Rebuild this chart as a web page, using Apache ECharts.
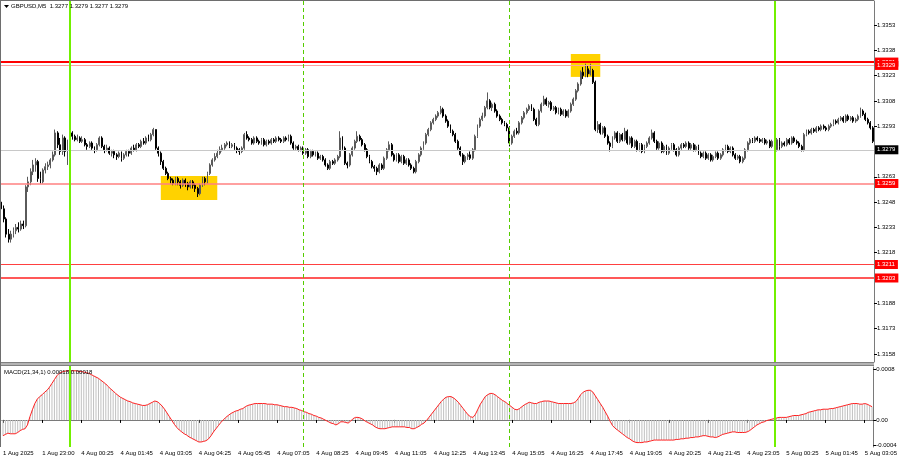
<!DOCTYPE html>
<html><head><meta charset="utf-8">
<script src="https://cdn.jsdelivr.net/npm/echarts@6/dist/echarts.min.js"></script>
<style>html,body{margin:0;padding:0;background:#fff}#c{width:900px;height:460px}</style>
</head><body><div id="c"></div>
<script>
const symbolTitle = 'GBPUSD,M5  1.3277 1.3279 1.3277 1.3279';
const macdTitle = 'MACD(21,34,1) 0.00018 0.00018';
const timeTickLabels = ['1 Aug 2025','1 Aug 23:00','4 Aug 00:25','4 Aug 01:45','4 Aug 03:05','4 Aug 04:25','4 Aug 05:45','4 Aug 07:05','4 Aug 08:25','4 Aug 09:45','4 Aug 11:05','4 Aug 12:25','4 Aug 13:45','4 Aug 15:05','4 Aug 16:25','4 Aug 17:45','4 Aug 19:05','4 Aug 20:25','4 Aug 21:45','4 Aug 23:05','5 Aug 00:25','5 Aug 01:45','5 Aug 03:05'];
const priceTicks = [1.3158,1.3173,1.3188,1.3218,1.3233,1.3248,1.3263,1.3293,1.3308,1.3323,1.3338,1.3353];
const macdTicks = [80, 0, -40];
const macdTickText = ['0.0008', '0.00', '-0.0004'];
const levels = [1.3331, 1.3329, 1.3259, 1.3211, 1.3203];
const currentPrice = 1.3279;
const dayLines = [28, 315];
const sessionLines = [123, 207];
const boxes = [[65, 1.32635, 88, 1.32492], [232, 1.33358, 244, 1.33222]];
// [open, close, low, high]
const candles = [
[1.3248,1.3244,1.3241,1.3250],[1.3244,1.3238,1.3236,1.3246],[1.3238,1.3229,1.3227,1.3239],[1.3229,1.3226,1.3224,1.3232],[1.3226,1.3229,1.3224,1.3231],
[1.3229,1.3231,1.3227,1.3233],[1.3231,1.3233,1.3229,1.3235],[1.3233,1.3232,1.3230,1.3236],[1.3232,1.3235,1.3231,1.3237],[1.3235,1.3234,1.3232,1.3237],
[1.3234,1.3257,1.3233,1.3258],[1.3257,1.3260,1.3254,1.3263],[1.3260,1.3266,1.3258,1.3268],[1.3266,1.3270,1.3264,1.3273],[1.3270,1.3272,1.3266,1.3274],
[1.3272,1.3262,1.3260,1.3273],[1.3262,1.3260,1.3259,1.3266],[1.3260,1.3267,1.3259,1.3268],[1.3267,1.3269,1.3265,1.3271],[1.3269,1.3270,1.3267,1.3272],
[1.3270,1.3273,1.3268,1.3274],[1.3273,1.3276,1.3272,1.3278],[1.3276,1.3289,1.3275,1.3291],[1.3289,1.3282,1.3280,1.3290],[1.3282,1.3278,1.3276,1.3286],
[1.3278,1.3286,1.3276,1.3288],[1.3286,1.3278,1.3275,1.3287],[1.3278,1.3283,1.3270,1.3285],[1.3283,1.3289,1.3282,1.3291],[1.3289,1.3287,1.3285,1.3290],
[1.3287,1.3285,1.3284,1.3288],[1.3285,1.3286,1.3284,1.3288],[1.3286,1.3284,1.3283,1.3287],[1.3284,1.3285,1.3283,1.3287],[1.3285,1.3282,1.3281,1.3286],
[1.3282,1.3281,1.3279,1.3283],[1.3281,1.3283,1.3280,1.3284],[1.3283,1.3280,1.3279,1.3284],[1.3280,1.3279,1.3277,1.3281],[1.3279,1.3282,1.3278,1.3283],
[1.3282,1.3286,1.3281,1.3287],[1.3286,1.3281,1.3280,1.3287],[1.3281,1.3279,1.3277,1.3282],[1.3279,1.3280,1.3278,1.3282],[1.3280,1.3277,1.3276,1.3281],
[1.3277,1.3278,1.3275,1.3279],[1.3278,1.3276,1.3274,1.3279],[1.3276,1.3275,1.3273,1.3277],[1.3275,1.3277,1.3274,1.3278],[1.3277,1.3274,1.3272,1.3278],
[1.3274,1.3276,1.3273,1.3277],[1.3276,1.3278,1.3275,1.3279],[1.3278,1.3277,1.3275,1.3279],[1.3277,1.3280,1.3276,1.3281],[1.3280,1.3279,1.3278,1.3282],
[1.3279,1.3282,1.3278,1.3283],[1.3282,1.3281,1.3280,1.3283],[1.3281,1.3284,1.3280,1.3285],[1.3284,1.3283,1.3282,1.3286],[1.3283,1.3286,1.3282,1.3287],
[1.3286,1.3285,1.3284,1.3288],[1.3285,1.3288,1.3284,1.3289],[1.3288,1.3291,1.3287,1.3292],[1.3291,1.3280,1.3279,1.3291],[1.3280,1.3277,1.3275,1.3281],
[1.3277,1.3272,1.3270,1.3278],[1.3272,1.3268,1.3267,1.3273],[1.3268,1.3265,1.3264,1.3269],[1.3265,1.3262,1.3261,1.3266],[1.3262,1.3261,1.3259,1.3263],
[1.3261,1.3259,1.3258,1.3262],[1.3259,1.3262,1.3258,1.3263],[1.3262,1.3260,1.3258,1.3263],[1.3260,1.3258,1.3256,1.3261],[1.3258,1.3261,1.3257,1.3262],
[1.3261,1.3259,1.3257,1.3262],[1.3259,1.3257,1.3255,1.3260],[1.3257,1.3260,1.3256,1.3261],[1.3260,1.3258,1.3256,1.3261],[1.3258,1.3256,1.3254,1.3259],
[1.3256,1.3253,1.3251,1.3257],[1.3253,1.3258,1.3252,1.3259],[1.3258,1.3262,1.3257,1.3263],[1.3262,1.3260,1.3258,1.3263],[1.3260,1.3265,1.3259,1.3266],
[1.3265,1.3270,1.3264,1.3271],[1.3270,1.3273,1.3269,1.3274],[1.3273,1.3275,1.3272,1.3277],[1.3275,1.3277,1.3274,1.3279],[1.3277,1.3279,1.3276,1.3281],
[1.3279,1.3280,1.3278,1.3282],[1.3280,1.3282,1.3279,1.3283],[1.3282,1.3283,1.3281,1.3284],[1.3283,1.3281,1.3280,1.3284],[1.3281,1.3282,1.3280,1.3283],
[1.3282,1.3280,1.3279,1.3283],[1.3280,1.3279,1.3277,1.3281],[1.3279,1.3278,1.3276,1.3280],[1.3278,1.3280,1.3277,1.3281],[1.3280,1.3288,1.3279,1.3289],
[1.3288,1.3286,1.3285,1.3290],[1.3286,1.3285,1.3284,1.3287],[1.3285,1.3283,1.3282,1.3286],[1.3283,1.3286,1.3282,1.3287],[1.3286,1.3284,1.3283,1.3287],
[1.3284,1.3283,1.3282,1.3285],[1.3283,1.3285,1.3282,1.3286],[1.3285,1.3282,1.3281,1.3286],[1.3282,1.3284,1.3281,1.3285],[1.3284,1.3283,1.3282,1.3285],
[1.3283,1.3285,1.3282,1.3286],[1.3285,1.3284,1.3283,1.3286],[1.3284,1.3286,1.3283,1.3287],[1.3286,1.3285,1.3284,1.3287],[1.3285,1.3284,1.3283,1.3286],
[1.3284,1.3286,1.3283,1.3287],[1.3286,1.3285,1.3284,1.3287],[1.3285,1.3287,1.3284,1.3288],[1.3287,1.3283,1.3282,1.3288],[1.3283,1.3280,1.3279,1.3284],
[1.3280,1.3281,1.3279,1.3282],[1.3281,1.3279,1.3278,1.3282],[1.3279,1.3280,1.3278,1.3281],[1.3280,1.3277,1.3276,1.3281],[1.3277,1.3279,1.3276,1.3280],
[1.3279,1.3275,1.3274,1.3280],[1.3275,1.3278,1.3274,1.3279],[1.3278,1.3276,1.3275,1.3279],[1.3276,1.3277,1.3275,1.3278],[1.3277,1.3274,1.3273,1.3278],
[1.3274,1.3275,1.3273,1.3276],[1.3275,1.3273,1.3272,1.3276],[1.3273,1.3270,1.3269,1.3274],[1.3270,1.3268,1.3267,1.3271],[1.3268,1.3272,1.3267,1.3273],
[1.3272,1.3271,1.3270,1.3273],[1.3271,1.3273,1.3270,1.3274],[1.3273,1.3275,1.3272,1.3276],[1.3275,1.3286,1.3274,1.3290],[1.3286,1.3280,1.3279,1.3287],
[1.3280,1.3271,1.3270,1.3281],[1.3271,1.3270,1.3268,1.3272],[1.3270,1.3276,1.3269,1.3277],[1.3276,1.3280,1.3275,1.3281],[1.3280,1.3284,1.3279,1.3285],
[1.3284,1.3287,1.3283,1.3290],[1.3287,1.3285,1.3284,1.3288],[1.3285,1.3282,1.3281,1.3286],[1.3282,1.3279,1.3278,1.3283],[1.3279,1.3275,1.3274,1.3280],
[1.3275,1.3272,1.3271,1.3276],[1.3272,1.3269,1.3268,1.3273],[1.3269,1.3268,1.3266,1.3270],[1.3268,1.3266,1.3264,1.3269],[1.3266,1.3270,1.3265,1.3271],
[1.3270,1.3268,1.3267,1.3271],[1.3268,1.3274,1.3267,1.3275],[1.3274,1.3279,1.3273,1.3280],[1.3279,1.3282,1.3278,1.3284],[1.3282,1.3276,1.3275,1.3283],
[1.3276,1.3273,1.3272,1.3277],[1.3273,1.3276,1.3272,1.3277],[1.3276,1.3272,1.3271,1.3277],[1.3272,1.3275,1.3271,1.3276],[1.3275,1.3271,1.3270,1.3276],
[1.3271,1.3273,1.3270,1.3274],[1.3273,1.3270,1.3269,1.3274],[1.3270,1.3268,1.3267,1.3271],[1.3268,1.3266,1.3265,1.3269],[1.3266,1.3272,1.3265,1.3273],
[1.3272,1.3276,1.3271,1.3277],[1.3276,1.3280,1.3275,1.3281],[1.3280,1.3283,1.3279,1.3284],[1.3283,1.3288,1.3282,1.3289],[1.3288,1.3291,1.3287,1.3292],
[1.3291,1.3295,1.3290,1.3296],[1.3295,1.3297,1.3294,1.3298],[1.3297,1.3299,1.3296,1.3300],[1.3299,1.3301,1.3298,1.3302],[1.3301,1.3303,1.3300,1.3305],
[1.3303,1.3299,1.3298,1.3304],[1.3299,1.3296,1.3295,1.3300],[1.3296,1.3293,1.3292,1.3297],[1.3293,1.3290,1.3289,1.3294],[1.3290,1.3288,1.3287,1.3291],
[1.3288,1.3284,1.3283,1.3289],[1.3284,1.3280,1.3279,1.3285],[1.3280,1.3276,1.3275,1.3281],[1.3276,1.3272,1.3270,1.3277],[1.3272,1.3275,1.3271,1.3276],
[1.3275,1.3276,1.3273,1.3277],[1.3276,1.3274,1.3273,1.3278],[1.3274,1.3279,1.3273,1.3280],[1.3279,1.3287,1.3278,1.3288],[1.3287,1.3293,1.3286,1.3294],
[1.3293,1.3297,1.3292,1.3298],[1.3297,1.3299,1.3296,1.3301],[1.3299,1.3304,1.3298,1.3305],[1.3304,1.3308,1.3303,1.3313],[1.3308,1.3304,1.3303,1.3309],
[1.3304,1.3306,1.3302,1.3307],[1.3306,1.3302,1.3301,1.3307],[1.3302,1.3299,1.3298,1.3303],[1.3299,1.3297,1.3296,1.3300],[1.3297,1.3295,1.3294,1.3298],
[1.3295,1.3294,1.3293,1.3296],[1.3294,1.3292,1.3290,1.3295],[1.3292,1.3283,1.3281,1.3293],[1.3283,1.3287,1.3282,1.3288],[1.3287,1.3290,1.3286,1.3291],
[1.3290,1.3289,1.3288,1.3292],[1.3289,1.3295,1.3288,1.3296],[1.3295,1.3298,1.3294,1.3299],[1.3298,1.3301,1.3297,1.3302],[1.3301,1.3303,1.3300,1.3304],
[1.3303,1.3305,1.3302,1.3306],[1.3305,1.3303,1.3302,1.3306],[1.3303,1.3297,1.3296,1.3304],[1.3297,1.3294,1.3293,1.3298],[1.3294,1.3302,1.3293,1.3303],
[1.3302,1.3306,1.3301,1.3307],[1.3306,1.3309,1.3305,1.3311],[1.3309,1.3306,1.3305,1.3310],[1.3306,1.3307,1.3304,1.3308],[1.3307,1.3303,1.3302,1.3308],
[1.3303,1.3304,1.3302,1.3305],[1.3304,1.3301,1.3300,1.3305],[1.3301,1.3303,1.3300,1.3304],[1.3303,1.3300,1.3299,1.3304],[1.3300,1.3302,1.3299,1.3303],
[1.3302,1.3299,1.3298,1.3303],[1.3299,1.3302,1.3298,1.3303],[1.3302,1.3306,1.3301,1.3307],[1.3306,1.3309,1.3305,1.3310],[1.3309,1.3314,1.3308,1.3315],
[1.3314,1.3318,1.3313,1.3319],[1.3318,1.3325,1.3317,1.3326],[1.3325,1.3323,1.3321,1.3328],[1.3323,1.3327,1.3322,1.3330],[1.3327,1.3324,1.3322,1.3329],
[1.3324,1.3326,1.3323,1.3330],[1.3326,1.3319,1.3318,1.3327],[1.3319,1.3291,1.3290,1.3320],[1.3291,1.3294,1.3289,1.3296],[1.3294,1.3289,1.3288,1.3295],
[1.3289,1.3292,1.3288,1.3293],[1.3292,1.3287,1.3286,1.3293],[1.3287,1.3283,1.3282,1.3288],[1.3283,1.3281,1.3278,1.3284],[1.3281,1.3286,1.3280,1.3287],
[1.3286,1.3289,1.3285,1.3290],[1.3289,1.3284,1.3283,1.3290],[1.3284,1.3288,1.3283,1.3289],[1.3288,1.3285,1.3284,1.3289],[1.3285,1.3290,1.3284,1.3292],
[1.3290,1.3283,1.3282,1.3291],[1.3283,1.3286,1.3282,1.3287],[1.3286,1.3281,1.3280,1.3287],[1.3281,1.3284,1.3280,1.3285],[1.3284,1.3279,1.3278,1.3285],
[1.3279,1.3282,1.3278,1.3283],[1.3282,1.3278,1.3277,1.3283],[1.3278,1.3281,1.3277,1.3282],[1.3281,1.3283,1.3280,1.3284],[1.3283,1.3286,1.3282,1.3287],
[1.3286,1.3289,1.3285,1.3291],[1.3289,1.3284,1.3283,1.3290],[1.3284,1.3280,1.3279,1.3285],[1.3280,1.3283,1.3279,1.3284],[1.3283,1.3278,1.3277,1.3284],
[1.3278,1.3281,1.3277,1.3282],[1.3281,1.3277,1.3276,1.3282],[1.3277,1.3280,1.3276,1.3281],[1.3280,1.3282,1.3279,1.3283],[1.3282,1.3279,1.3278,1.3283],
[1.3279,1.3276,1.3275,1.3280],[1.3276,1.3280,1.3275,1.3281],[1.3280,1.3282,1.3279,1.3283],[1.3282,1.3281,1.3280,1.3283],[1.3281,1.3283,1.3280,1.3284],
[1.3283,1.3280,1.3279,1.3284],[1.3280,1.3282,1.3279,1.3283],[1.3282,1.3279,1.3278,1.3283],[1.3279,1.3281,1.3278,1.3282],[1.3281,1.3277,1.3276,1.3282],
[1.3277,1.3275,1.3274,1.3278],[1.3275,1.3277,1.3274,1.3278],[1.3277,1.3274,1.3273,1.3278],[1.3274,1.3276,1.3273,1.3277],[1.3276,1.3273,1.3272,1.3277],
[1.3273,1.3275,1.3272,1.3276],[1.3275,1.3277,1.3274,1.3278],[1.3277,1.3274,1.3273,1.3278],[1.3274,1.3276,1.3273,1.3277],[1.3276,1.3279,1.3275,1.3280],
[1.3279,1.3281,1.3278,1.3282],[1.3281,1.3278,1.3277,1.3282],[1.3278,1.3280,1.3277,1.3281],[1.3280,1.3276,1.3275,1.3281],[1.3276,1.3274,1.3273,1.3277],
[1.3274,1.3275,1.3273,1.3276],[1.3275,1.3272,1.3271,1.3276],[1.3272,1.3274,1.3271,1.3275],[1.3274,1.3279,1.3273,1.3280],[1.3279,1.3283,1.3278,1.3284],
[1.3283,1.3285,1.3282,1.3286],[1.3285,1.3284,1.3283,1.3286],[1.3284,1.3286,1.3283,1.3287],[1.3286,1.3285,1.3284,1.3287],[1.3285,1.3284,1.3283,1.3286],
[1.3284,1.3285,1.3283,1.3286],[1.3285,1.3283,1.3282,1.3286],[1.3283,1.3284,1.3282,1.3285],[1.3284,1.3281,1.3280,1.3285],[1.3281,1.3284,1.3280,1.3285],
[1.3284,1.3279,1.3278,1.3285],[1.3279,1.3285,1.3278,1.3286],[1.3285,1.3281,1.3279,1.3286],[1.3281,1.3283,1.3280,1.3284],[1.3283,1.3282,1.3281,1.3284],
[1.3282,1.3285,1.3281,1.3286],[1.3285,1.3283,1.3282,1.3286],[1.3283,1.3286,1.3282,1.3287],[1.3286,1.3284,1.3283,1.3287],[1.3284,1.3283,1.3282,1.3285],
[1.3283,1.3281,1.3280,1.3284],[1.3281,1.3279,1.3278,1.3282],[1.3279,1.3288,1.3278,1.3289],[1.3288,1.3290,1.3287,1.3291],[1.3290,1.3289,1.3288,1.3291],
[1.3289,1.3291,1.3288,1.3292],[1.3291,1.3290,1.3289,1.3292],[1.3290,1.3292,1.3289,1.3293],[1.3292,1.3291,1.3290,1.3293],[1.3291,1.3293,1.3290,1.3294],
[1.3293,1.3292,1.3291,1.3294],[1.3292,1.3291,1.3290,1.3293],[1.3291,1.3293,1.3290,1.3294],[1.3293,1.3294,1.3292,1.3295],[1.3294,1.3296,1.3293,1.3297],
[1.3296,1.3295,1.3294,1.3297],[1.3295,1.3297,1.3294,1.3298],[1.3297,1.3298,1.3296,1.3299],[1.3298,1.3296,1.3295,1.3299],[1.3296,1.3299,1.3295,1.3300],
[1.3299,1.3297,1.3296,1.3300],[1.3297,1.3298,1.3296,1.3299],[1.3298,1.3296,1.3295,1.3299],[1.3296,1.3297,1.3295,1.3298],[1.3297,1.3299,1.3296,1.3300],
[1.3299,1.3302,1.3298,1.3304],[1.3302,1.3300,1.3299,1.3303],[1.3300,1.3297,1.3296,1.3301],[1.3297,1.3295,1.3294,1.3298],[1.3295,1.3292,1.3291,1.3296],
[1.3292,1.3284,1.3283,1.3293]
];
// MACD(21,34,1) main line, in units of 0.00001 (signal equals main for period 1)
const macdE5 = [
-25,-23,-21,-22,-22,-22,-20,-17,-15,-14,
-8,5,16,26,33,37,40,44,47,52,
58,64,70,74,76,77,78,78,78,78,
78,77,77,76,75,74,72,70,68,66,
63,60,57,53,49,46,42,39,36,34,
32,30,29,27,26,25,24,23,23,24,
26,28,30,29,26,22,17,11,5,-1,
-7,-12,-16,-19,-22,-24,-27,-29,-31,-33,
-35,-35,-34,-33,-30,-25,-19,-14,-9,-4,
0,4,7,10,12,14,15,17,18,21,
23,24,25,26,26,26,26,26,25,25,
25,24,24,23,22,21,21,20,20,19,
18,16,15,13,12,10,9,7,6,4,
3,1,-1,-3,-5,-6,-8,-6,-3,-3,
-4,-5,-2,2,4,4,3,1,-2,-4,
-6,-8,-11,-13,-14,-14,-14,-13,-12,-11,
-11,-11,-11,-11,-11,-12,-12,-14,-14,-12,
-10,-7,-5,-1,4,9,14,19,24,29,
33,36,37,37,35,32,28,23,18,13,
8,5,4,9,17,25,31,37,40,42,
42,40,37,34,31,29,26,23,20,17,
16,18,21,24,26,28,27,26,26,28,
29,30,30,30,29,28,27,26,26,26,
26,26,26,27,29,34,40,44,46,47,
47,44,38,32,26,20,13,6,-2,-9,
-13,-16,-19,-22,-25,-28,-30,-33,-35,-36,
-36,-36,-35,-35,-34,-33,-32,-32,-32,-32,
-32,-32,-32,-32,-32,-31,-31,-30,-30,-29,
-29,-28,-28,-27,-27,-26,-25,-25,-26,-27,
-27,-28,-27,-25,-23,-22,-21,-20,-19,-19,
-20,-20,-20,-20,-19,-17,-14,-11,-8,-6,
-4,-3,-1,0,1,2,3,4,4,4,
4,5,6,7,7,7,8,9,10,12,
13,14,15,16,16,17,17,17,18,18,
19,20,21,22,23,24,25,26,26,26,
25,25,26,25,23,21
];

const FONT = "'Liberation Sans',Arial,sans-serif";
const FS = 6;
const bars = candles.map((_, i) => i);
const levelStyles = [
  {color:'#ff0000', width:2},
  {color:'#ffa0a0', width:1},
  {color:'#ff8080', width:1.5},
  {color:'#ff4040', width:1},
  {color:'#ff2020', width:1.5}
];
function tagLabel(v, bg) {
  return {show:true, position:'end', distance:1, formatter: v.toFixed(4), color:'#fff', backgroundColor:bg,
          fontSize:FS, fontFamily:FONT, padding:[1,3,1,2], lineHeight:7};
}
function hLines() {
  const out = levels.map((v, k) => ({yAxis:v, lineStyle:Object.assign({type:'solid'}, levelStyles[k]), label:tagLabel(v, '#ff0000')}));
  out.unshift({yAxis:currentPrice, lineStyle:{type:'solid', color:'#c8c8c8', width:1}, label:tagLabel(currentPrice, '#000000')});
  return out;
}

const chart = echarts.init(document.getElementById('c'), null, {renderer:'canvas'});
const tickEvery = (i) => i % 16 === 0;
chart.setOption({
  animation:false,
  backgroundColor:'#ffffff',
  textStyle:{fontFamily:FONT},
  grid:[
    {left:0, right:26, top:1, height:361, containLabel:false},
    {left:0, right:26, top:367, height:80, containLabel:false}
  ],
  xAxis:[
    {type:'category', gridIndex:0, data:bars, boundaryGap:true, axisLine:{show:false}, axisTick:{show:false}, axisLabel:{show:false}, splitLine:{show:false}},
    {type:'category', gridIndex:1, data:bars, boundaryGap:true,
     axisLine:{show:true, lineStyle:{color:'#7a7a7a', width:1}},
     axisTick:{show:true, interval: (i) => tickEvery(i), alignWithLabel:true, length:3, lineStyle:{color:'#000'}},
     axisLabel:{show:true, interval:(i) => tickEvery(i), formatter:(v, i) => timeTickLabels[i / 16] || '', align:'left', margin:3, fontSize:FS, color:'#000', fontFamily:FONT},
     splitLine:{show:false}}
  ],
  yAxis:[
    {type:'value', gridIndex:0, position:'right', min:1.31532, max:1.33672, scale:true,
     axisLine:{show:true, onZero:false, lineStyle:{color:'#7a7a7a'}},
     axisTick:{show:true, customValues:priceTicks, length:3, lineStyle:{color:'#000'}},
     axisLabel:{show:true, customValues:priceTicks, formatter:(v) => v.toFixed(4), margin:3, fontSize:FS, color:'#000', fontFamily:FONT},
     splitLine:{show:false}},
    {type:'value', gridIndex:1, position:'right', min:-43, max:84,
     axisLine:{show:true, onZero:false, lineStyle:{color:'#7a7a7a'}},
     axisTick:{show:true, customValues:macdTicks, length:3, lineStyle:{color:'#000'}},
     axisLabel:{show:true, customValues:macdTicks, formatter:(v) => macdTickText[macdTicks.indexOf(v)] || '', margin:3, fontSize:FS, color:'#000', fontFamily:FONT},
     splitLine:{show:false}}
  ],
  series:[
    {type:'line', name:'annotations', xAxisIndex:0, yAxisIndex:0, data:[], symbol:'none',
     markArea:{silent:true, itemStyle:{color:'#ffd200', opacity:1}, data: boxes.map(b => [{xAxis:b[0], yAxis:b[1]}, {xAxis:b[2], yAxis:b[3]}])},
     markLine:{silent:true, symbol:['none','none'], animation:false, precision:4, data: hLines()}
    },
    {type:'candlestick', xAxisIndex:0, yAxisIndex:0, data:candles, barWidth:1.4, z:3,
     itemStyle:{color:'#9a9a9a', color0:'#000000', borderColor:'#5a5a5a', borderColor0:'#000000', borderWidth:1}
    },
    {type:'bar', xAxisIndex:1, yAxisIndex:1, data:macdE5, barWidth:1, itemStyle:{color:'#c0c0c0'}},
    {type:'line', xAxisIndex:1, yAxisIndex:1, data:macdE5, symbol:'none', smooth:false, lineStyle:{color:'#ff2020', width:1}, z:5}
  ]
});

// Frame, separators and vertical time markers (positions from the chart's own x scale)
const gfx = [
  {type:'rect', shape:{x:0, y:362, width:874, height:4}, style:{fill:'#b4b4b4'}, z:10},
  {type:'line', shape:{x1:0, y1:362.5, x2:874, y2:362.5}, style:{stroke:'#808080', lineWidth:1}, z:11},
  {type:'line', shape:{x1:0, y1:365.5, x2:874, y2:365.5}, style:{stroke:'#808080', lineWidth:1}, z:11},
  {type:'line', shape:{x1:0.5, y1:0, x2:0.5, y2:447}, style:{stroke:'#6e6e6e', lineWidth:1}, z:11},
  {type:'line', shape:{x1:0, y1:0.5, x2:874, y2:0.5}, style:{stroke:'#6e6e6e', lineWidth:1}, z:11},
  {type:'polygon', shape:{points:[[4,5],[9,5],[6.5,8]]}, style:{fill:'#000'}, z:12},
  {type:'text', x:11, y:3, style:{text:symbolTitle, fontSize:FS, fontFamily:FONT, fill:'#000'}, z:12},
  {type:'text', x:4, y:369, style:{text:macdTitle, fontSize:FS, fontFamily:FONT, fill:'#000'}, z:12}
];
const panelsY = [[1, 362], [366, 447]];
sessionLines.forEach(i => {
  const x = Math.round(chart.convertToPixel({xAxisIndex:0}, i)) + 0.5;
  panelsY.forEach(p => gfx.push({type:'line', shape:{x1:x, y1:p[0], x2:x, y2:p[1]}, style:{stroke:'#55cc00', lineWidth:1, lineDash:[4,3]}, z:6}));
});
dayLines.forEach(i => {
  const x = Math.round(chart.convertToPixel({xAxisIndex:0}, i));
  panelsY.forEach(p => gfx.push({type:'line', shape:{x1:x, y1:p[0], x2:x, y2:p[1]}, style:{stroke:'#72f000', lineWidth:2}, z:6}));
});
chart.setOption({graphic: gfx});
</script>
</body></html>
